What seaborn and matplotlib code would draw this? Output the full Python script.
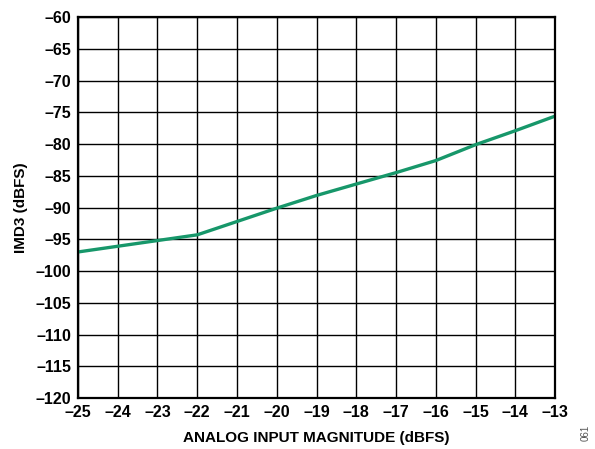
import matplotlib
matplotlib.use('Agg')
import matplotlib.pyplot as plt
import seaborn as sns
import pandas as pd

# values
input_dbfs = [-25, -24, -23, -22, -21, -20, -19, -18, -17, -16, -15, -14, -13]
imd3_dbfs = [-97.0, -96.1, -95.2, -94.3, -92.2, -90.1, -88.1, -86.3, -84.5, -82.6, -80.1, -77.9, -75.6]
x_ticks = list(range(-25, -12))
y_ticks = list(range(-120, -55, 5))

df = pd.DataFrame({'x': input_dbfs, 'y': imd3_dbfs})

sns.set_theme(style='white')
plt.rcParams['font.family'] = ['Liberation Sans', 'DejaVu Sans']
plt.rcParams['text.color'] = 'black'
plt.rcParams['axes.labelcolor'] = 'black'
plt.rcParams['xtick.color'] = 'black'
plt.rcParams['ytick.color'] = 'black'

fig = plt.figure(figsize=(5.95, 4.49), dpi=100)
ax = fig.add_axes([0.131, 0.1136, 0.802, 0.8484])

sns.lineplot(data=df, x='x', y='y', ax=ax, color='#17976a', linewidth=2.4)

ax.set_xlim(-25, -13)
ax.set_ylim(-120, -60)
ax.set_xticks(x_ticks)
ax.set_yticks(y_ticks)
ax.set_xticklabels([f'\u2013{abs(v)}' for v in x_ticks])
ax.set_yticklabels([f'\u2013{abs(v)}' for v in y_ticks])
ax.grid(True, color='black', linewidth=1.0)
ax.set_axisbelow(True)
for s in ax.spines.values():
    s.set_color('black')
    s.set_linewidth(1.6)
ax.tick_params(axis='both', length=0, pad=5, labelsize=11.5, colors='black')
for lbl in ax.get_xticklabels() + ax.get_yticklabels():
    lbl.set_fontweight('bold')

ax.set_xlabel('ANALOG INPUT MAGNITUDE (dBFS)', fontsize=11, fontweight='bold', labelpad=8, color='black')
ax.set_ylabel('IMD3 (dBFS)', fontsize=11, fontweight='bold', labelpad=5, color='black')

fig.text(0.992, 0.035, '061', rotation=90, fontsize=7, color='#555555', ha='right', va='center')

fig.savefig('out.png', dpi=100)
